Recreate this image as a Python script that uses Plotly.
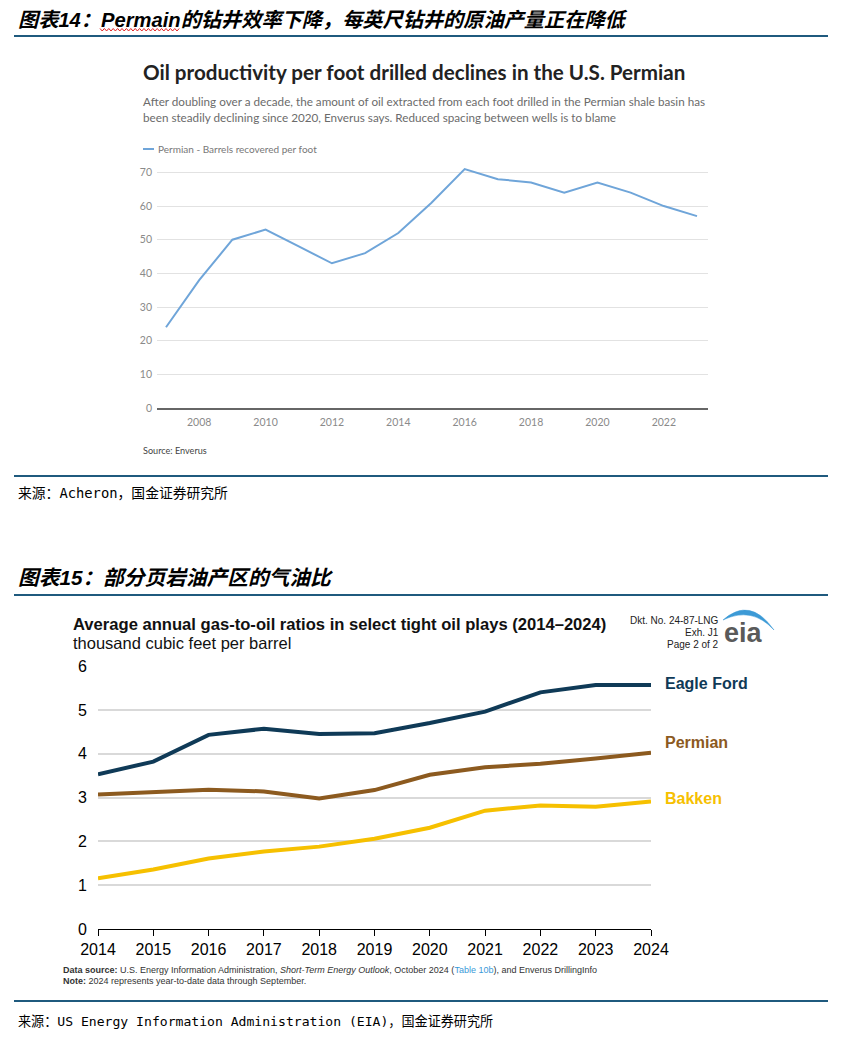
import plotly.graph_objects as go

W, H = 843, 1038      # target picture size
OFF = 8               # page body margin of the browser
FW, FH = W - OFF, H - OFF

# ---------------- data ----------------
# Chart 1: Permian barrels recovered per foot
c1_years = list(range(2007, 2024))
c1_bpf = [24, 38, 50, 53, 48, 43, 46, 52, 61, 71, 68, 67, 64, 67, 64, 60, 57]
c1_xticks = [2008, 2010, 2012, 2014, 2016, 2018, 2020, 2022]
c1_yticks = [0, 10, 20, 30, 40, 50, 60, 70]

# Chart 2: gas-to-oil ratios (thousand cubic feet per barrel)
c2_years = list(range(2014, 2025))
eagle_ford = [3.53, 3.82, 4.43, 4.57, 4.45, 4.47, 4.70, 4.96, 5.40, 5.57, 5.57]
permian_gor = [3.07, 3.13, 3.18, 3.14, 2.98, 3.17, 3.52, 3.69, 3.77, 3.89, 4.02]
bakken = [1.16, 1.36, 1.61, 1.77, 1.88, 2.06, 2.31, 2.70, 2.82, 2.79, 2.91]
c2_yticks = [0, 1, 2, 3, 4, 5, 6]
c2_series = ["Eagle Ford", "Permian", "Bakken"]

# ---------------- helpers ----------------
def px(x):
    return (x - OFF) / FW

def py(y):
    return 1 - (y - OFF) / FH

CJK = "Noto Sans CJK SC"
HEAD = "Liberation Sans, Noto Sans CJK SC"
MONO = "DejaVu Sans Mono, Noto Sans CJK SC"
REU = "Lato, Noto Sans"
ARIAL = "Liberation Sans, Arial"
RULE = "#1f5a7e"

annotations = []
shapes = []

def ann(text, x, y, size, color="#000", family=CJK, xanchor="left", yanchor="middle"):
    annotations.append(dict(
        text=text, x=px(x), y=py(y), xref="paper", yref="paper",
        xanchor=xanchor, yanchor=yanchor, showarrow=False, borderpad=0,
        font=dict(size=size, color=color, family=family),
        align="center" if xanchor == "center" else xanchor))

def hline(y, x0=14, x1=828, color=RULE, width=2):
    shapes.append(dict(type="line", xref="paper", yref="paper",
                       x0=px(x0), x1=px(x1), y0=py(y), y1=py(y),
                       line=dict(color=color, width=width)))

fig = go.Figure()

# ---------------- chart 1 ----------------
fig.add_trace(go.Scatter(
    x=c1_years, y=c1_bpf, mode="lines", name="Permian - Barrels recovered per foot",
    line=dict(color="#6fa5d9", width=2), xaxis="x", yaxis="y", showlegend=False))

# ---------------- chart 2 ----------------
c2_colors = ["#0f3a57", "#8c5a1f", "#f6c000"]
for name, vals, col in zip(c2_series, [eagle_ford, permian_gor, bakken], c2_colors):
    fig.add_trace(go.Scatter(
        x=c2_years, y=vals, mode="lines", name=name,
        line=dict(color=col, width=4), xaxis="x2", yaxis="y2", showlegend=False))

# page furniture
ann("<b><i>图表14：Permain的钻井效率下降，每英尺钻井的原油产量正在降低</i></b>", 17, 20, 20.2, family=HEAD)
hline(36)
# red spellcheck squiggle under "Permain"
sq = []
xs = 100
i = 0
while xs <= 181:
    yy = 28.5 if i % 2 == 0 else 31
    sq.append(("M" if i == 0 else "L") + f"{px(xs):.5f},{py(yy):.5f}")
    xs += 2.2
    i += 1
shapes.append(dict(type="path", xref="paper", yref="paper", path=" ".join(sq),
                   line=dict(color="#e02020", width=1)))

ann("<b>Oil productivity per foot drilled declines in the U.S. Permian</b>", 142, 72, 20.6, "#222", REU)
ann("After doubling over a decade, the amount of oil extracted from each foot drilled in the Permian shale basin has",
    142, 101, 11.7, "#6b6b6b", REU)
ann("been steadily declining since 2020, Enverus says. Reduced spacing between wells is to blame",
    142, 117, 11.7, "#6b6b6b", REU)
shapes.append(dict(type="line", xref="paper", yref="paper", x0=px(143), x1=px(154),
                   y0=py(149), y1=py(149), line=dict(color="#6fa5d9", width=2)))
ann("Permian - Barrels recovered per foot", 157, 149, 10, "#777", REU)
ann("Source: Enverus", 142, 450, 9.1, "#444", REU)

hline(476)
ann("来源：Acheron，国金证券研究所", 17, 493, 13.8, "#000", MONO)

ann("<b><i>图表15：部分页岩油产区的气油比</i></b>", 17, 577, 20.7, family=HEAD)
hline(595)

ann("<b>Average annual gas-to-oil ratios in select tight oil plays (2014–2024)</b>", 72, 624, 16.6, "#111", ARIAL)
ann("thousand cubic feet per barrel", 72, 643, 16.5, "#111", ARIAL)
ann("Dkt. No. 24-87-LNG", 720, 620, 10, "#222", ARIAL, xanchor="right")
ann("Exh. J1", 720, 632, 10, "#222", ARIAL, xanchor="right")
ann("Page 2 of 2", 720, 644, 10, "#222", ARIAL, xanchor="right")
ann("<b>eia</b>", 743, 633, 27, "#5a5a5a", ARIAL, xanchor="center")
shapes.append(dict(
    type="path", xref="paper", yref="paper",
    path=(f"M{px(723):.5f},{py(620):.5f} Q{px(750):.5f},{py(596):.5f} {px(774):.5f},{py(630):.5f} "
          f"Q{px(752):.5f},{py(606):.5f} {px(723):.5f},{py(620):.5f} Z"),
    fillcolor="#3c9ad6", line=dict(color="#3c9ad6", width=0.5)))

label_y = [683, 742, 798]
for name, col, yy in zip(c2_series, c2_colors, label_y):
    ann(f"<b>{name}</b>", 664, yy, 16, col, ARIAL)

ann("<b>Data source:</b> U.S. Energy Information Administration, <i>Short-Term Energy Outlook</i>, October 2024 "
    "(<span style='color:#3a9ad9'>Table 10b</span>), and Enverus DrillingInfo", 62, 970, 9, "#333", ARIAL)
ann("<b>Note:</b> 2024 represents year-to-date data through September.", 62, 981, 9, "#333", ARIAL)

hline(1001)
ann("来源：US Energy Information Administration (EIA)，国金证券研究所", 17, 1021, 13.1, "#000", MONO)

# ---------------- layout ----------------
c1_dom_x = [px(157), px(708)]
c1_dom_y = [py(408), py(165)]
c1_range_x = [2007 - (166 - 157) / 33.2, 2023 + (708 - 697) / 33.2]

c2_dom_x = [px(98), px(651)]
c2_dom_y = [py(929), py(666)]

fig.update_layout(
    width=FW, height=FH, margin=dict(l=0, r=0, t=0, b=0, autoexpand=False),
    paper_bgcolor="white", plot_bgcolor="rgba(0,0,0,0)",
    showlegend=False,
    annotations=annotations, shapes=shapes,
    xaxis=dict(domain=c1_dom_x, range=c1_range_x, tickvals=c1_xticks, automargin=False,
               showgrid=False, zeroline=False, showline=True, linecolor="#666", linewidth=1.5,
               ticks="", tickfont=dict(size=10.5, color="#8a8a8a", family=REU),
               ticklabelstandoff=4, anchor="y", fixedrange=True),
    yaxis=dict(domain=c1_dom_y, range=[0, 72.2], tickvals=c1_yticks, automargin=False,
               showgrid=True, gridcolor="#e2e2e2", gridwidth=1, zeroline=False, showline=False,
               ticks="", tickfont=dict(size=10.5, color="#8a8a8a", family=REU),
               ticklabelstandoff=4, anchor="x", fixedrange=True),
    xaxis2=dict(domain=c2_dom_x, range=[2014, 2024], tickvals=c2_years, automargin=False,
                showgrid=False, zeroline=False, showline=True, linecolor="#000", linewidth=1,
                ticks="outside", ticklen=6, tickcolor="#000", tickwidth=1,
                tickfont=dict(size=16, color="#000", family=ARIAL),
                anchor="y2", fixedrange=True),
    yaxis2=dict(domain=c2_dom_y, range=[0, 6.002], tickvals=c2_yticks, automargin=False,
                showgrid=True, gridcolor="#d9d9d9", gridwidth=1.5, zeroline=False, showline=False,
                ticks="", tickfont=dict(size=16, color="#000", family=ARIAL),
                ticklabelstandoff=10, anchor="x2", fixedrange=True),
)

fig.write_html("out.html")
